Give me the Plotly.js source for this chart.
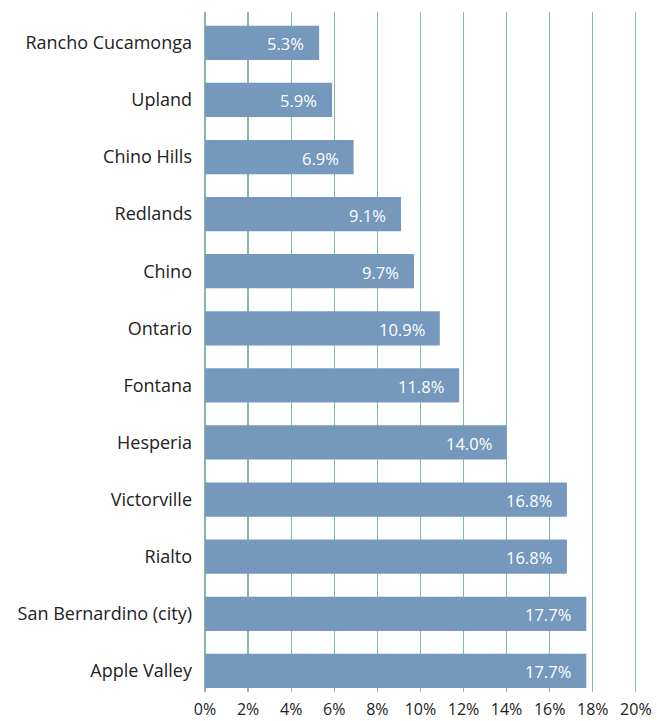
<!DOCTYPE html>
<html>
<head>
<meta charset="utf-8">
<script src="https://cdn.plot.ly/plotly-3.0.1.min.js"></script>
<style>html,body{margin:0;padding:0;background:#fff;}#chart{width:657px;height:721px;}</style>
</head>
<body>
<div id="chart"></div>
<script>
const cities = ["Rancho Cucamonga","Upland","Chino Hills","Redlands","Chino","Ontario","Fontana","Hesperia","Victorville","Rialto","San Bernardino (city)","Apple Valley"];
const rates = [5.3, 5.9, 6.9, 9.1, 9.7, 10.9, 11.8, 14.0, 16.8, 16.8, 17.7, 17.7];
const tickVals = [0,2,4,6,8,10,12,14,16,18,20];
const tickText = tickVals.map(v => v + "%");

const trace = {
  type: "bar",
  orientation: "h",
  y: cities,
  x: rates,
  marker: {color: "#7598bc"},
  hoverinfo: "skip"
};

const annotations = cities.map((c, i) => ({
  x: rates[i], y: c, xref: "x", yref: "y",
  text: rates[i].toFixed(1) + "%",
  showarrow: false, xanchor: "right", yanchor: "middle",
  xshift: -13, yshift: -1,
  font: {family: "Open Sans, sans-serif", size: 16.5, color: "#ffffff"}
}));

const layout = {
  width: 657, height: 721,
  margin: {l: 205, r: 19, t: 12, b: 29},
  paper_bgcolor: "#ffffff", plot_bgcolor: "#ffffff",
  bargap: 0.4,
  showlegend: false,
  font: {family: "Open Sans, sans-serif", color: "#222222"},
  xaxis: {
    range: [0, 20.1], tickvals: tickVals, ticktext: tickText,
    showgrid: true, gridcolor: "#86b9a5", gridwidth: 1.2,
    zeroline: true, zerolinecolor: "#86b9a5", zerolinewidth: 1.2,
    showline: false, ticks: "", ticklabelstandoff: 6,
    tickfont: {size: 16, color: "#222222"}, fixedrange: true
  },
  yaxis: {
    type: "category", categoryorder: "array", categoryarray: cities,
    range: [11.37, -0.54],
    showgrid: false, zeroline: false, showline: false, ticks: "",
    ticklabelstandoff: 12,
    tickfont: {size: 18, color: "#222222"}, fixedrange: true
  },
  annotations: annotations
};

Plotly.newPlot("chart", [trace], layout, {displayModeBar: false, staticPlot: true});
</script>
</body>
</html>
